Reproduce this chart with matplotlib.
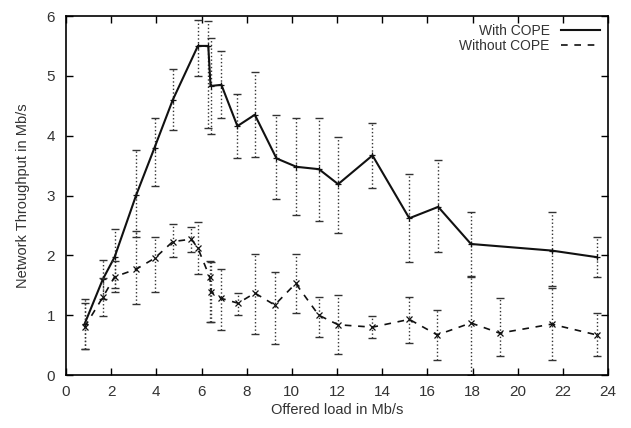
import matplotlib
matplotlib.use("Agg")
import matplotlib.pyplot as plt
import numpy as np

plt.rcParams['font.family'] = ['Liberation Sans', 'DejaVu Sans']

# With COPE
cope_x = [0.82, 1.63, 2.15, 3.11, 3.92, 4.73, 5.84, 6.30, 6.40, 6.88, 7.59, 8.36,
          9.32, 10.2, 11.2, 12.05, 13.57, 15.2, 16.48, 17.93, 21.5, 23.5]
cope_y = [0.85, 1.60, 1.97, 3.01, 3.80, 4.60, 5.50, 5.50, 4.83, 4.85, 4.16, 4.35,
          3.62, 3.48, 3.44, 3.19, 3.67, 2.62, 2.81, 2.19, 2.08, 1.97]
cope_lo = [0.43, 1.27, 1.45, 2.30, 3.16, 4.09, 5.00, 4.12, 4.03, 4.29, 3.63, 3.65,
           2.94, 2.68, 2.58, 2.38, 3.13, 1.89, 2.06, 1.66, 1.48, 1.63]
cope_hi = [1.27, 1.93, 2.44, 3.76, 4.29, 5.11, 5.94, 5.91, 5.63, 5.41, 4.69, 5.06,
           4.34, 4.29, 4.29, 3.97, 4.22, 3.36, 3.60, 2.72, 2.72, 2.30]

# Without COPE
noc_x = [0.82, 1.63, 2.15, 3.11, 3.92, 4.73, 5.55, 5.84, 6.36, 6.43, 6.88, 7.62,
         8.36, 9.24, 10.17, 11.19, 12.05, 13.57, 15.2, 16.44, 17.93, 19.2, 21.5, 23.5]
noc_y = [0.80, 1.30, 1.64, 1.77, 1.95, 2.23, 2.27, 2.12, 1.64, 1.39, 1.28, 1.20,
         1.37, 1.17, 1.53, 1.00, 0.84, 0.80, 0.93, 0.67, 0.87, 0.70, 0.85, 0.67]
noc_lo = [0.43, 0.98, 1.38, 1.19, 1.38, 1.97, 2.06, 1.69, 0.89, 0.89, 0.76, 1.00,
          0.69, 0.52, 1.03, 0.64, 0.35, 0.62, 0.53, 0.25, 0.00, 0.31, 0.25, 0.31]
noc_hi = [1.20, 1.62, 1.90, 2.40, 2.30, 2.52, 2.48, 2.55, 1.91, 1.89, 1.77, 1.37,
          2.02, 1.73, 2.03, 1.30, 1.33, 0.98, 1.30, 1.09, 1.64, 1.28, 1.45, 1.03]

fig = plt.figure(figsize=(6.31, 4.28), dpi=100)
ax = fig.add_axes([0.1046, 0.1238, 0.859, 0.8388])

txt = '#333333'

def draw(x, y, lo, hi, ls, marker, label, lw):
    x = np.array(x); y = np.array(y)
    yerr = np.vstack([y - np.array(lo), np.array(hi) - y])
    eb = ax.errorbar(x, y, yerr=yerr, fmt='none', ecolor='#333333', elinewidth=1.0,
                     capsize=3, capthick=1.0)
    for lc in eb.lines[2]:
        lc.set_linestyle(':')
    ax.plot(x, y, linestyle=ls, color='#111111', lw=lw, marker=marker,
            markersize=4, markeredgewidth=0.9, label=label)

draw(cope_x, cope_y, cope_lo, cope_hi, '-', '+', 'With COPE', 1.5)
draw(noc_x, noc_y, noc_lo, noc_hi, (0, (4, 4)), 'x', 'Without COPE', 1.2)

ax.set_xlim(0, 24)
ax.set_ylim(0, 6)
ax.set_xticks(np.arange(0, 25, 2))
ax.set_yticks(np.arange(0, 7, 1))
ax.tick_params(direction='in', top=True, right=True, length=5, width=1,
               labelsize=11, labelcolor=txt)
ax.tick_params(axis='x', pad=7)
ax.tick_params(axis='y', pad=8)
for s in ax.spines.values():
    s.set_linewidth(1.2)

ax.set_xlabel('Offered load in Mb/s', fontsize=10.5, color=txt, labelpad=3)
ax.set_ylabel('Network Throughput in Mb/s', fontsize=10.5, color=txt, labelpad=12)

leg = ax.legend(loc='upper right', frameon=False, markerfirst=False, fontsize=10,
                handlelength=2.8, borderaxespad=0.2, labelspacing=0.05)
for t in leg.get_texts():
    t.set_color(txt)
for h in leg.get_lines():
    h.set_marker('')

fig.savefig('out.png', dpi=100)
